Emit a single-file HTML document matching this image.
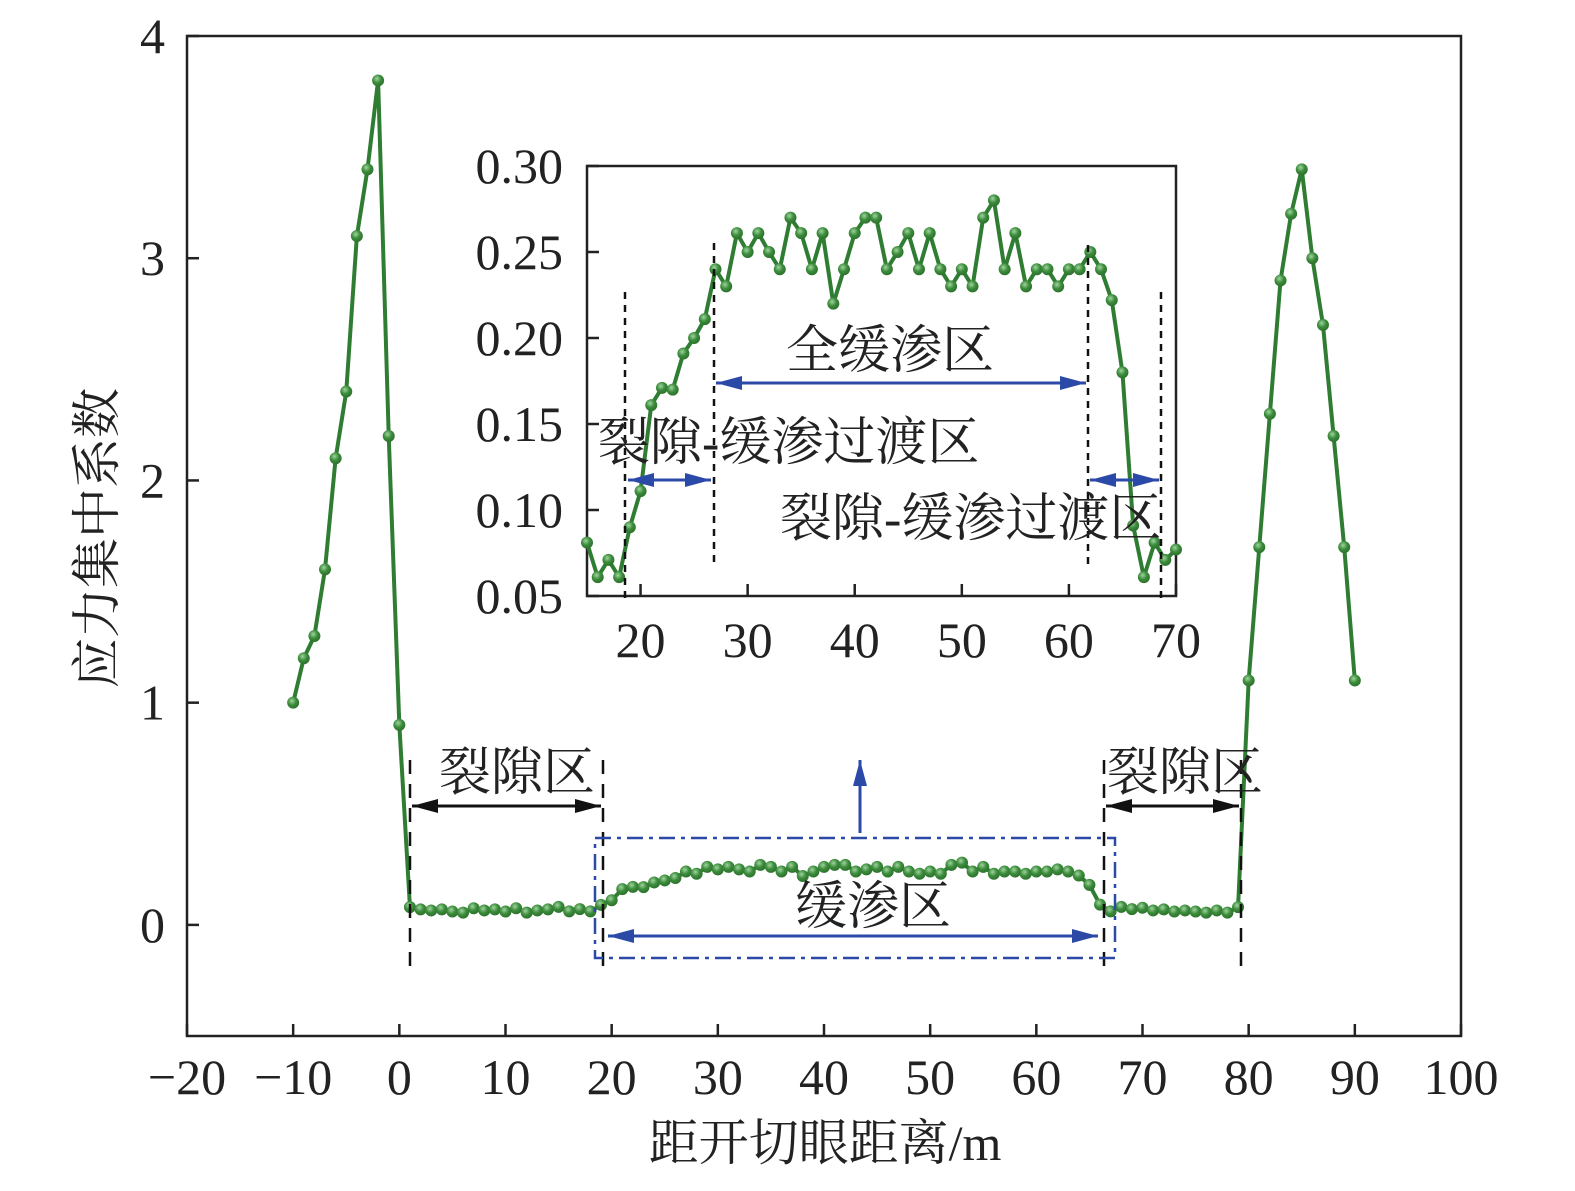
<!DOCTYPE html>
<html><head><meta charset="utf-8"><style>
html,body{margin:0;padding:0;background:#fff}
svg{display:block}
text{font-family:"Liberation Serif","Noto Serif CJK SC",serif;fill:#222}
</style></head><body>
<svg id="chart" width="1575" height="1191" viewBox="0 0 1575 1191" xmlns="http://www.w3.org/2000/svg">
<defs>
<marker id="ab" viewBox="0 0 10 10" refX="10" refY="5" markerWidth="26" markerHeight="14" preserveAspectRatio="none" orient="auto-start-reverse" markerUnits="userSpaceOnUse"><path d="M0,0 L10,5 L0,10z" fill="#2b4aa8"/></marker>
<marker id="ak" viewBox="0 0 10 10" refX="10" refY="5" markerWidth="26" markerHeight="14" preserveAspectRatio="none" orient="auto-start-reverse" markerUnits="userSpaceOnUse"><path d="M0,0 L10,5 L0,10z" fill="#111"/></marker>
<radialGradient id="dot" cx="0.4" cy="0.35" r="0.7"><stop offset="0" stop-color="#9fd49f"/><stop offset="0.5" stop-color="#3c8c3c"/><stop offset="1" stop-color="#2a6e2a"/></radialGradient>
</defs>
<g id="main"></g>
<g id="inset"></g>
<g id="annot"></g>
</svg>
<script>
const xVals = [];
for (let i = -10; i <= 90; i++) xVals.push(i);
const yVals = [
1.0,1.2,1.3,1.6,2.1,2.4,3.1,3.4,3.8,2.2,
0.9,
0.08,0.07,0.065,0.07,0.06,0.055,0.075,0.065,0.07,0.06,0.075,0.055,0.065,0.07,0.081,0.061,0.071,0.061,
0.090,0.111,0.161,0.171,0.170,0.191,0.200,0.211,0.240,0.230,
0.261,0.250,0.261,0.250,0.240,0.270,0.261,0.240,0.261,0.220,
0.240,0.261,0.270,0.270,0.240,0.250,0.261,0.240,0.261,0.240,
0.230,0.240,0.230,0.270,0.280,0.240,0.261,0.230,0.240,0.240,
0.230,0.240,0.240,0.250,0.240,0.222,0.180,0.091,
0.061,0.081,0.071,0.077,
0.065,0.07,0.06,0.065,0.06,0.055,0.065,0.055,0.08,
1.1,1.7,2.3,2.9,3.2,3.4,3.0,2.7,2.2,1.7,1.1
];
const xTicks = [-20,-10,0,10,20,30,40,50,60,70,80,90,100];
const yTicks = [0,1,2,3,4];
const insetXTicks = [20,30,40,50,60,70];
const insetYTicks = [0.05,0.10,0.15,0.20,0.25,0.30];

const NS = 'http://www.w3.org/2000/svg';
function mk(parent, tag, attrs, txt){
  const e = document.createElementNS(NS, tag);
  for (const k in attrs) e.setAttribute(k, attrs[k]);
  if (txt !== undefined) e.textContent = txt;
  parent.appendChild(e); return e;
}
const L=187,T=36,R=1461,B=1036;
const sx = v => L + (v+20)/120*(R-L);
const sy = v => B - (v+0.5)/4.5*(B-T);
const gm = document.getElementById('main');
let f = mk(gm,'rect',{x:L,y:T,width:R-L,height:B-T,fill:'none',stroke:'#222','stroke-width':2.5});


xTicks.forEach(t=>{
  const l = mk(gm,'line',{x1:sx(t),x2:sx(t),y1:B,y2:B-12,stroke:'#222','stroke-width':2.5});
  
  
  const tx = mk(gm,'text',{x:sx(t),y:1094,'font-size':50,'text-anchor':'middle'}, t<0?'\u2212'+(-t):String(t));
  
  
});
yTicks.forEach(t=>{
  const l = mk(gm,'line',{x1:L,x2:L+12,y1:sy(t),y2:sy(t),stroke:'#222','stroke-width':2.5});
  
  
  const tx = mk(gm,'text',{x:165,y:sy(t)+17,'font-size':50,'text-anchor':'end'}, String(t));
  
  
});
let xl = mk(gm,'text',{x:825,y:1160,'font-size':50,'text-anchor':'middle'},'距开切眼距离/m');


let yl = mk(gm,'text',{x:0,y:0,'font-size':50,'text-anchor':'middle',transform:'translate(114,538) rotate(-90)'},'应力集中系数');


let pts = xVals.map((x,i)=>sx(x)+','+sy(yVals[i])).join(' ');
let ln = mk(gm,'polyline',{points:pts,fill:'none',stroke:'#2f7d32','stroke-width':4,'stroke-linejoin':'round'});


xVals.forEach((x,i)=>{
  const c = mk(gm,'circle',{cx:sx(x),cy:sy(yVals[i]),r:6,fill:'url(#dot)'});
  
  
});
const iL=587,iT=166,iR=1176,iB=596;
const ix = v => iL + (v-15)/55*(iR-iL);
const iy = v => iB - (v-0.05)/0.25*(iB-iT);
const gi = document.getElementById('inset');
let bg = mk(gi,'rect',{x:iL,y:iT,width:iR-iL,height:iB-iT,fill:'#fff',stroke:'#222','stroke-width':2.5});


insetXTicks.forEach(t=>{
  const l = mk(gi,'line',{x1:ix(t),x2:ix(t),y1:iB,y2:iB-12,stroke:'#222','stroke-width':2.5});
  
  
  const tx = mk(gi,'text',{x:ix(t),y:657,'font-size':50,'text-anchor':'middle'},String(t));
  
  
});
insetYTicks.forEach(t=>{
  const l = mk(gi,'line',{x1:iL,x2:iL+12,y1:iy(t),y2:iy(t),stroke:'#222','stroke-width':2.5});
  
  
  const tx = mk(gi,'text',{x:563,y:iy(t)+17,'font-size':50,'text-anchor':'end'},t.toFixed(2));
  
  
});
const ixs=[], iys=[];
xVals.forEach((x,i)=>{ if(x>=15 && x<=70){ ixs.push(x); iys.push(yVals[i]); } });
let ipl = mk(gi,'polyline',{points:ixs.map((x,i)=>ix(x)+','+iy(iys[i])).join(' '),fill:'none',stroke:'#2f7d32','stroke-width':4,'stroke-linejoin':'round'});


ixs.forEach((x,i)=>{
  const c = mk(gi,'circle',{cx:ix(x),cy:iy(iys[i]),r:6,fill:'url(#dot)'});
  
  
});
const ga = document.getElementById('annot');
function vdash(x,y1,y2,dash,name){
  const l = mk(ga,'line',{x1:x,x2:x,y1:y1,y2:y2,stroke:'#111','stroke-width':2.5,'stroke-dasharray':dash});
  
  
}
function arrow(x1,y1,x2,y2,col,both,name){
  const l = mk(ga,'line',{x1:x1,y1:y1,x2:x2,y2:y2,stroke:col=='b'?'#2b4aa8':'#111','stroke-width':3,'marker-end':col=='b'?'url(#ab)':'url(#ak)'});
  if(both) l.setAttribute('marker-start',col=='b'?'url(#ab)':'url(#ak)');
  
  
}
function label(x,y,s,txt,name,anchor){
  const t = mk(ga,'text',{x:x,y:y,'font-size':s,'text-anchor':anchor||'middle'},txt);
  
  
}
vdash(410,760,968,'14 10','crack-zone-left-boundary');
vdash(603,760,968,'14 10','crack-zone-left-end');
vdash(1104,760,968,'14 10','crack-zone-right-start');
vdash(1241,760,968,'14 10','crack-zone-right-end');
arrow(412,806,601,806,'k',true,'crack-zone-left-arrow');
arrow(1106,806,1239,806,'k',true,'crack-zone-right-arrow');
label(517,790,52,'裂隙区','crack-zone-left-label');
label(1185,790,52,'裂隙区','crack-zone-right-label');
let rr = mk(ga,'rect',{x:595,y:838,width:520,height:120,fill:'none',stroke:'#2b4aa8','stroke-width':2.5,'stroke-dasharray':'16 6 4 6'});


arrow(860,833,860,760,'b',false,'zoom-arrow-up');
label(873,924,52,'缓渗区','slow-seepage-label');
arrow(608,936,1098,936,'b',true,'slow-seepage-arrow');
vdash(625,292,598,'7 6','inset-boundary-1');
vdash(714,243,565,'7 6','inset-boundary-2');
vdash(1088,245,565,'7 6','inset-boundary-3');
vdash(1161,292,598,'7 6','inset-boundary-4');
label(890,368,52,'全缓渗区','full-seepage-label');
arrow(716,383,1086,383,'b',true,'full-seepage-arrow');
label(598,460,52,'裂隙-缓渗过渡区','transition-left-label','start');
arrow(628,480,711,480,'b',true,'transition-left-arrow');
arrow(1090,480,1159,480,'b',true,'transition-right-arrow');
label(780,536,52,'裂隙-缓渗过渡区','transition-right-label','start');
</script>
</body></html>
